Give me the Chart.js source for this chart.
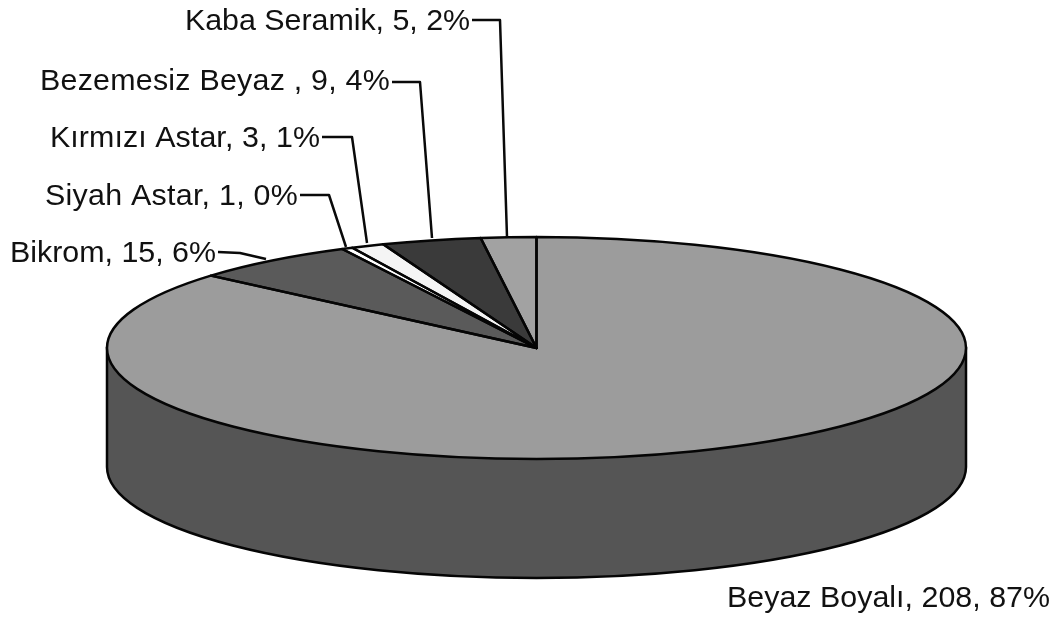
<!DOCTYPE html>
<html>
<head>
<meta charset="utf-8">
<style>
html,body{margin:0;padding:0;background:#fff;width:1061px;height:621px;overflow:hidden}
canvas{display:block;filter:blur(0.5px)}
</style>
<script src="https://cdn.jsdelivr.net/npm/chart.js@4"></script>
</head>
<body>
<canvas id="c" width="1061" height="621"></canvas>
<script>
const categories = ['Beyaz Boyalı','Bikrom','Siyah Astar','Kırmızı Astar','Bezemesiz Beyaz ','Kaba Seramik'];
const values = [208,15,1,3,9,5];
const percents = ['87%','6%','0%','1%','4%','2%'];
const sliceColors = ['#9c9c9c','#5a5a5a','#ffffff','#f4f4f4','#3a3a3a','#a2a2a2'];

const view = {cx:536.5, cy:348, rx:429.5, ry:111, depth:119, wall:'#555555', edge:'#050505'};
const font = '30.4px "Liberation Sans", Arial, sans-serif';
const labelAnchors = [
  {x:1050,y:607,w:323},
  {x:216,y:262,w:206,lead:[[218,252],[240,253],[266,259]]},
  {x:298,y:205,w:253,lead:[[300,195],[329,195],[346,247]]},
  {x:320,y:147,w:270,lead:[[322,137],[352,137],[367,243]]},
  {x:390,y:90,w:350,lead:[[392,82],[420,82],[432,238]]},
  {x:470,y:30,w:285,lead:[[472,20],[500,20],[507,237]]}
];

const pie3d = {
  id:'pie3d',
  beforeDatasetsDraw(chart){
    const ctx = chart.ctx, a = chart.getDatasetMeta(0).data[0];
    const v = view;
    ctx.save();
    ctx.beginPath();
    ctx.ellipse(v.cx, v.cy+v.depth, v.rx, v.ry, 0, 0, Math.PI);
    ctx.lineTo(v.cx-v.rx, v.cy);
    ctx.lineTo(v.cx+v.rx, v.cy);
    ctx.closePath();
    ctx.fillStyle = v.wall;
    ctx.fill();
    ctx.strokeStyle = v.edge;
    ctx.lineWidth = 2.5;
    ctx.stroke();
    ctx.restore();
    ctx.save();
    const sx = v.rx/a.outerRadius, sy = v.ry/a.outerRadius;
    ctx.translate(v.cx, v.cy);
    ctx.scale(sx, sy);
    ctx.translate(-a.x, -a.y);
  },
  afterDatasetsDraw(chart){
    const ctx = chart.ctx, v = view;
    ctx.restore();
    ctx.save();
    ctx.strokeStyle = v.edge;
    ctx.lineWidth = 2.5;
    ctx.lineJoin = 'round';
    chart.getDatasetMeta(0).data.forEach(a=>{
      ctx.beginPath();
      ctx.moveTo(v.cx, v.cy);
      ctx.ellipse(v.cx, v.cy, v.rx, v.ry, 0, a.startAngle, a.endAngle);
      ctx.closePath();
      ctx.stroke();
    });
    // labels and leader lines
    ctx.font = font;
    ctx.textAlign = 'right';
    ctx.textBaseline = 'alphabetic';
    ctx.fillStyle = '#111';
    categories.forEach((c,i)=>{
      const p = labelAnchors[i];
      const text = `${c}, ${values[i]}, ${percents[i]}`;
      ctx.letterSpacing = '0px';
      const extra = (p.w - ctx.measureText(text).width) / text.length;
      ctx.letterSpacing = extra.toFixed(3) + 'px';
      ctx.fillText(text, p.x, p.y);
      if(p.lead){
        ctx.beginPath();
        p.lead.forEach((q,j)=> j ? ctx.lineTo(q[0],q[1]) : ctx.moveTo(q[0],q[1]));
        ctx.strokeStyle = '#0a0a0a';
        ctx.lineWidth = 2.5;
        ctx.stroke();
      }
    });
    ctx.restore();
  }
};

new Chart(document.getElementById('c'),{
  type:'pie',
  data:{labels:categories,datasets:[{data:values,backgroundColor:sliceColors,borderWidth:0}]},
  options:{
    responsive:false,
    animation:false,
    plugins:{legend:{display:false},tooltip:{enabled:false}}
  },
  plugins:[pie3d]
});
</script>
</body>
</html>
